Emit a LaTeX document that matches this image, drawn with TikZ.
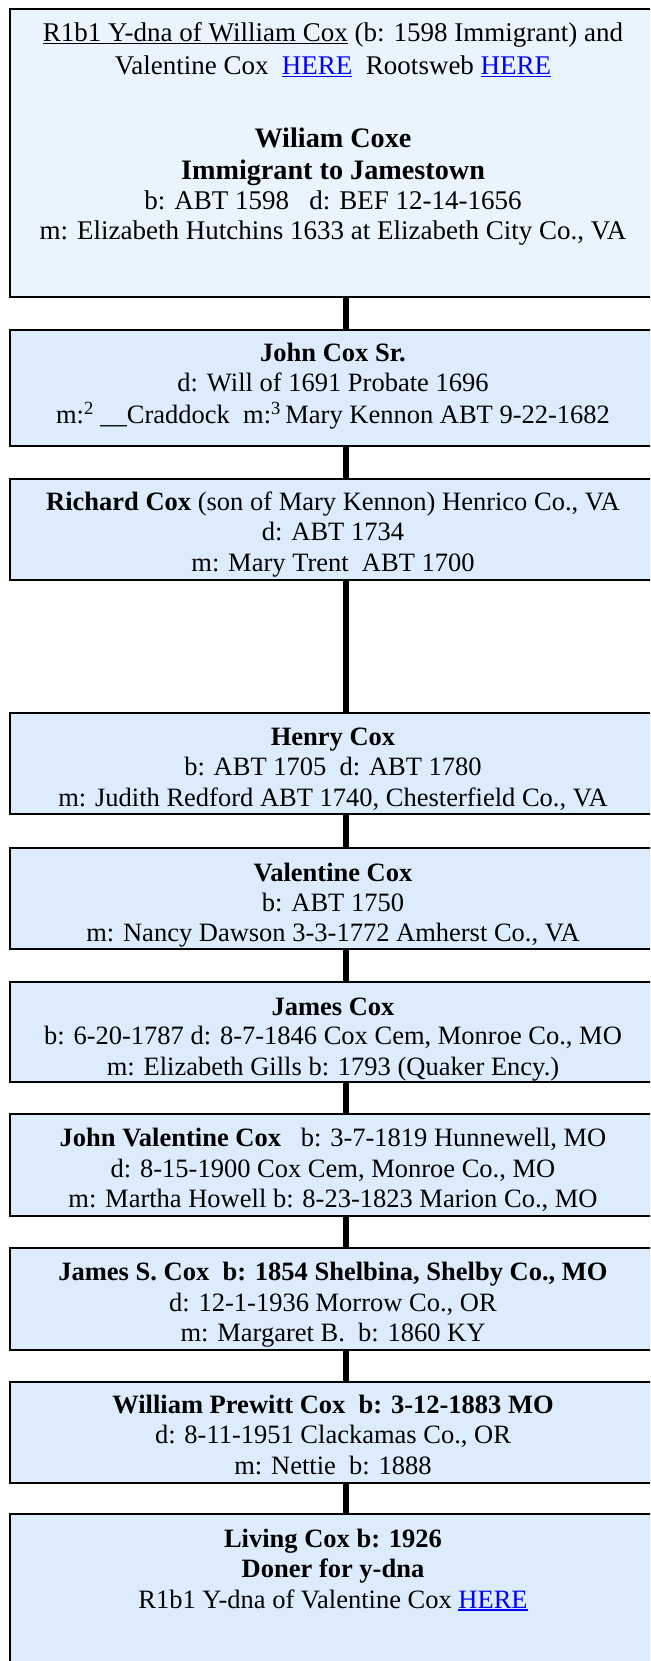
\documentclass[tikz,border=0pt]{standalone}
\usepackage{fontspec}
\setmainfont{Liberation Serif}
\definecolor{topfill}{RGB}{234,244,254}
\definecolor{boxfill}{RGB}{221,236,253}
\definecolor{linkblue}{RGB}{0,0,255}
\newcommand\myul[1]{\setbox0\hbox{#1}\rlap{\rule[-2.4pt]{\wd0}{1.3pt}}\box0\relax}
\newcommand\lnk[1]{\textcolor{linkblue}{\myul{#1}}}
\tikzset{
  famBox/.style={draw=black, line width=2.2pt, fill=boxfill, anchor=north west,
    inner sep=0pt, minimum width=673.5pt},
  topBox/.style={famBox, fill=topfill},
  txt/.style={anchor=base, inner sep=0pt, font=\fontsize{26.5}{31}\selectfont},
  toptxt/.style={anchor=base, inner sep=0pt, font=\fontsize{27}{31}\selectfont},
  topbold/.style={anchor=base, inner sep=0pt, font=\fontsize{28.2}{31}\selectfont\bfseries},
  conn/.style={line width=6pt, draw=black}
}
\begin{document}
\begin{tikzpicture}[x=1pt,y=-1pt]
\useasboundingbox (0,0) rectangle (650,1661);
\clip (0,0) rectangle (650,1661);
% boxes
\node[topBox, minimum height=288pt] (b1) at (8.5,8) {};
\node[famBox, minimum height=116pt] (b2) at (8.5,329) {};
\node[famBox, minimum height=101pt] (b3) at (8.5,478) {};
\node[famBox, minimum height=101pt] (b4) at (8.5,712) {};
\node[famBox, minimum height=101pt] (b5) at (8.5,847) {};
\node[famBox, minimum height=100pt] (b6) at (8.5,981) {};
\node[famBox, minimum height=102pt] (b7) at (8.5,1113) {};
\node[famBox, minimum height=102pt] (b8) at (8.5,1247) {};
\node[famBox, minimum height=101pt] (b9) at (8.5,1381) {};
\node[famBox, minimum height=220pt] (b10) at (8.5,1513) {};
% connectors
\draw[conn] (b1.south) -- (b2.north);
\draw[conn] (b2.south) -- (b3.north);
\draw[conn] (b3.south) -- (b4.north);
\draw[conn] (b4.south) -- (b5.north);
\draw[conn] (b5.south) -- (b6.north);
\draw[conn] (b6.south) -- (b7.north);
\draw[conn] (b7.south) -- (b8.north);
\draw[conn] (b8.south) -- (b9.north);
\draw[conn] (b9.south) -- (b10.north);
% box 1
\node[toptxt] (t1a) at (333,41.5) {\myul{R1b1 Y-dna of William Cox} (b: 1598 Immigrant) and};
\node[toptxt] (t1b) at (333,75) {Valentine Cox\ \ \lnk{HERE}\ \ Rootsweb \lnk{HERE}};
\node[topbold] (t1c) at (333,147.5) {Wiliam Coxe};
\node[topbold] (t1d) at (333,180) {Immigrant to Jamestown};
\node[toptxt] (t1e) at (333,209.5) {b: ABT 1598\ \ \ d: BEF 12-14-1656};
\node[toptxt] (t1f) at (333,239.5) {m: Elizabeth Hutchins 1633 at Elizabeth City Co., VA};
% box 2
\node[txt] (t2a) at (333,361.7) {\textbf{John Cox Sr.}};
\node[txt] (t2b) at (333,391.7) {d: Will of 1691 Probate 1696};
\node[txt] (t2c) at (333,423.3) {m:\textsuperscript{2} \_\_Craddock\ \ m:\textsuperscript{3}\,Mary Kennon ABT 9-22-1682};
% box 3
\node[txt] (t3a) at (333,510) {\textbf{Richard Cox} (son of Mary Kennon) Henrico Co., VA};
\node[txt] (t3b) at (333,540.5) {d: ABT 1734};
\node[txt] (t3c) at (333,571.5) {m: Mary Trent\ \ ABT 1700};
% box 4
\node[txt] (t4a) at (333,745) {\textbf{Henry Cox}};
\node[txt] (t4b) at (333,775.5) {b: ABT 1705\ \ d: ABT 1780};
\node[txt] (t4c) at (333,806) {m: Judith Redford ABT 1740, Chesterfield Co., VA};
% box 5
\node[txt] (t5a) at (333,881) {\textbf{Valentine Cox}};
\node[txt] (t5b) at (333,911.5) {b: ABT 1750};
\node[txt] (t5c) at (333,941.7) {m: Nancy Dawson 3-3-1772 Amherst Co., VA};
% box 6
\node[txt] (t6a) at (333,1015) {\textbf{James Cox}};
\node[txt] (t6b) at (333,1044.5) {b: 6-20-1787 d: 8-7-1846 Cox Cem, Monroe Co., MO};
\node[txt] (t6c) at (333,1075) {m: Elizabeth Gills b: 1793 (Quaker Ency.)};
% box 7
\node[txt] (t7a) at (333,1146.7) {\textbf{John Valentine Cox}\ \ \ b: 3-7-1819 Hunnewell, MO};
\node[txt] (t7b) at (333,1177.3) {d: 8-15-1900 Cox Cem, Monroe Co., MO};
\node[txt] (t7c) at (333,1207.7) {m: Martha Howell b: 8-23-1823 Marion Co., MO};
% box 8
\node[txt] (t8a) at (333,1280) {\textbf{James S. Cox\ \ b: 1854 Shelbina, Shelby Co., MO}};
\node[txt] (t8b) at (333,1311) {d: 12-1-1936 Morrow Co., OR};
\node[txt] (t8c) at (333,1341) {m: Margaret B.\ \ b: 1860 KY};
% box 9
\node[txt] (t9a) at (333,1413.3) {\textbf{William Prewitt Cox\ \ b: 3-12-1883 MO}};
\node[txt] (t9b) at (333,1443.3) {d: 8-11-1951 Clackamas Co., OR};
\node[txt] (t9c) at (333,1474.3) {m: Nettie\ \ b: 1888};
% box 10
\node[txt] (t10a) at (333,1547.7) {\textbf{Living Cox b: 1926}};
\node[txt] (t10b) at (333,1577.3) {\textbf{Doner for y-dna}};
\node[txt] (t10c) at (333,1608.3) {R1b1 Y-dna of Valentine Cox \lnk{HERE}};
\end{tikzpicture}
\end{document}
